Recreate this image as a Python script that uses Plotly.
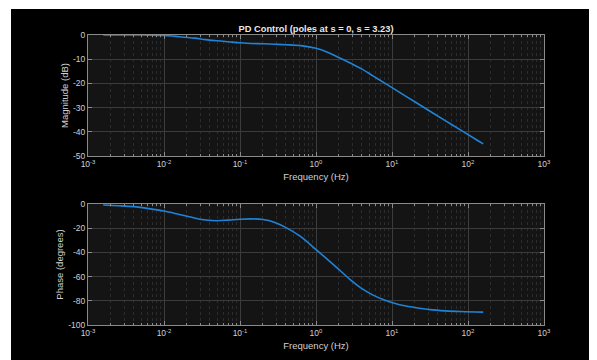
import plotly.graph_objects as go

freq_hz = [0.001585, 0.002512, 0.003981, 0.00631, 0.01, 0.01585, 0.02512, 0.03548,
           0.05012, 0.07079, 0.1, 0.1413, 0.1995, 0.2818, 0.3981, 0.631, 1.0, 1.413,
           1.995, 2.818, 3.981, 5.623, 7.943, 12.59, 19.95, 31.62, 50.12, 79.43, 125.9, 158.5]
magnitude_db = [0, 0, 0, -0.05, -0.2, -0.7, -1.3, -1.9, -2.4, -2.8, -3.2, -3.5, -3.6,
                -3.8, -4.0, -4.4, -5.5, -7.1, -9.3, -11.6, -14.0, -16.9, -19.8, -23.7,
                -27.6, -31.5, -35.4, -39.2, -43.1, -45.0]
phase_deg = [-0.8, -1.4, -2.2, -3.8, -5.8, -8.6, -11.5, -13.2, -13.8, -13.3, -12.6, -12.3,
             -12.8, -15.0, -19.3, -27.0, -37.7, -45.7, -54.0, -62.5, -69.8, -75.3, -79.3,
             -83.2, -85.5, -87.3, -88.3, -88.9, -89.3, -89.4]

x_tickvals = [0.001, 0.01, 0.1, 1, 10, 100, 1000]
x_ticktext = ["10<sup>-3</sup>", "10<sup>-2</sup>", "10<sup>-1</sup>", "10<sup>0</sup>",
              "10<sup>1</sup>", "10<sup>2</sup>", "10<sup>3</sup>"]
mag_ticks = [0, -10, -20, -30, -40, -50]
mag_ticktext = ["0", "-10", "-20", "-30", "-40", "-50"]
phase_ticks = [0, -20, -40, -60, -80, -100]
phase_ticktext = ["0", "-20", "-40", "-60", "-80", "-100"]

title_text = "PD Control (poles at s = 0, s = 3.23)"
line_color = "#1f84d8"
font_family = "Liberation Sans, Arial, sans-serif"
tick_color = "#d0d0d0"
grid_color = "#3c3c3c"
minor_grid_color = "#2c2c2c"
frame_color = "#8a8a8a"

minor_vals = [d * m for d in x_tickvals[:-1] for m in range(2, 10)]

fig = go.Figure()
fig.add_trace(go.Scatter(x=freq_hz, y=magnitude_db, mode="lines",
                         line=dict(color=line_color, width=1.6, shape="spline"),
                         xaxis="x", yaxis="y", showlegend=False))
fig.add_trace(go.Scatter(x=freq_hz, y=phase_deg, mode="lines",
                         line=dict(color=line_color, width=1.6, shape="spline"),
                         xaxis="x2", yaxis="y2", showlegend=False))

def xax(anchor):
    return dict(
        type="log", range=[-3, 3], tickmode="array", tickvals=x_tickvals, ticktext=x_ticktext,
        showgrid=True, gridcolor=grid_color, gridwidth=1,
        ticks="inside", ticklen=4, tickcolor=frame_color,
        showline=True, linecolor=frame_color, linewidth=1, mirror="ticks",
        tickfont=dict(family=font_family, size=8.5, color=tick_color),
        title=dict(text="Frequency (Hz)", font=dict(family=font_family, size=9.5, color=tick_color), standoff=5),
        minor=dict(tickmode="array", tickvals=minor_vals, showgrid=True, gridcolor=minor_grid_color,
                   griddash="dot", ticks="inside", ticklen=2, tickcolor=frame_color),
        zeroline=False, anchor=anchor, automargin=False,
    )

def yax(rng, ticks, labels, title, domain, anchor):
    return dict(
        range=rng, tickmode="array", tickvals=ticks, ticktext=labels, domain=domain, anchor=anchor,
        showgrid=True, gridcolor=grid_color, gridwidth=1,
        ticks="inside", ticklen=4, tickcolor=frame_color,
        showline=True, linecolor=frame_color, linewidth=1, mirror="ticks",
        tickfont=dict(family=font_family, size=8.5, color=tick_color),
        title=dict(text=title, font=dict(family=font_family, size=9.5, color=tick_color), standoff=2),
        zeroline=False, automargin=False,
    )

L, R, T, B = 80, 61, 27, 43
fig.update_layout(
    width=597, height=360,
    margin=dict(l=L, r=R, t=T, b=B),
    paper_bgcolor="black", plot_bgcolor="#141414",
    xaxis=xax("y"),
    yaxis=yax([-50, 0], mag_ticks, mag_ticktext, "Magnitude (dB)", [169 / 290, 1.0], "x"),
    xaxis2=xax("y2"),
    yaxis2=yax([-100, 0], phase_ticks, phase_ticktext, "Phase (degrees)", [0.0, 121 / 290], "x2"),
    title=dict(text="<b>" + title_text + "</b>", x=(L + 597 - R) / 2 / 597, xanchor="center",
               y=1 - 21 / 360, yanchor="middle", font=dict(family=font_family, size=9.3, color="#e8e8e8")),
    shapes=[
        dict(type="rect", xref="paper", yref="paper", x0=-L / 456, x1=-(L - 3) / 456, y0=-0.3, y1=1.3,
             fillcolor="white", line=dict(width=0), layer="above"),
        dict(type="rect", xref="paper", yref="paper", x0=-0.3, x1=1.3, y0=1 + (T - 1) / 290, y1=1 + (T + 2) / 290,
             fillcolor="white", line=dict(width=0), layer="above"),
    ],
)

fig.write_html("out.html")
